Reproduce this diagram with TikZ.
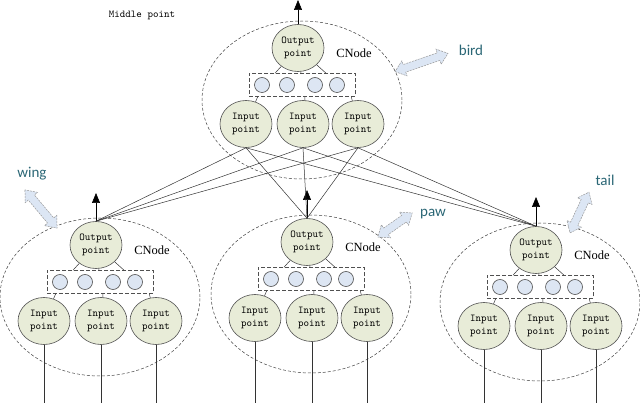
\documentclass[tikz,border=0pt]{standalone}
\usepackage{fontspec}
\setmainfont{Liberation Serif}
\newfontfamily\labf{Carlito}
\usetikzlibrary{shapes.geometric,arrows.meta,calc}
\definecolor{nodefill}{HTML}{E8ECD8}
\definecolor{dotfill}{HTML}{DDE6F3}
\definecolor{edgec}{HTML}{505050}
\definecolor{labc}{HTML}{2A6675}
\definecolor{arrfill}{HTML}{DCE6F4}
\tikzset{
 pnode/.style={ellipse, draw=edgec, fill=nodefill, minimum width=52pt, minimum height=47pt, inner sep=0pt, align=center, font=\ttfamily\fontsize{10.5}{13}\selectfont, line width=0.6pt},
 dotnode/.style={circle, draw=edgec, fill=dotfill, minimum size=15pt, inner sep=0pt, line width=0.6pt},
 boxnode/.style={draw=edgec, dash pattern=on 4pt off 2pt, minimum width=106pt, minimum height=23pt, inner sep=0pt, line width=0.6pt},
 clus/.style={ellipse, draw=black!75, dash pattern=on 3pt off 2pt, line width=0.5pt, minimum width=200pt, minimum height=158pt, inner sep=0pt},
 wire/.style={draw=black!80, line width=0.5pt},
 outarr/.style={draw=black, line width=0.6pt, -{Triangle[length=10pt,width=8pt]}},
 cnlabel/.style={font=\fontsize{12.5}{14}\selectfont},
 partlabel/.style={font=\labf\fontsize{15}{18}\selectfont, text=labc},
 blockarr/.style={draw=gray!80, dash pattern=on 2pt off 1pt, fill=arrfill, line width=0.5pt},
}
\newcommand\mkclus[3]{%
 \node[clus] (#1-e) at (#2,#3+15) {};
 \node[boxnode] (#1-box) at (#2,#3) {};
 \node[dotnode] (#1-d1) at (#2-40,#3) {};
 \node[dotnode] (#1-d2) at (#2-15,#3) {};
 \node[dotnode] (#1-d3) at (#2+13,#3) {};
 \node[dotnode] (#1-d4) at (#2+35,#3) {};
 \node[pnode] (#1-out) at (#2-4,#3-37) {Output\\point};
 \node[pnode] (#1-i1) at (#2-56,#3+39) {Input\\point};
 \node[pnode] (#1-i2) at (#2+1,#3+39) {Input\\point};
 \node[pnode] (#1-i3) at (#2+56,#3+39) {Input\\point};
 \node[cnlabel] (#1-cn) at (#2+52,#3-32) {CNode};
 \draw[wire] (#1-out) -- ($(#1-box.north)+(-27,0)$);
 \draw[wire] (#1-out) -- ($(#1-box.north)+(-1,0)$);
 \draw[wire] (#1-out) -- ($(#1-box.north)+(24,0)$);
 \draw[wire] ($(#1-box.south west)+(9,0)$) -- (#1-i1);
 \draw[wire] ($(#1-box.south)+(3,0)$) -- (#1-i2);
 \draw[wire] ($(#1-box.south east)+(-4,0)$) -- (#1-i3);
}
\newcommand\dblarrow[4]{% cx, cy, angle, length
 \begin{scope}[shift={(#1,#2)}, rotate=#3]
  \draw[blockarr] (-#4/2,0) -- (-#4/2+10,8) -- (-#4/2+10,4) -- (#4/2-10,4) -- (#4/2-10,8) -- (#4/2,0)
    -- (#4/2-10,-8) -- (#4/2-10,-4) -- (-#4/2+10,-4) -- (-#4/2+10,-8) -- cycle;
 \end{scope}
}
\begin{document}
\begin{tikzpicture}[x=1pt,y=-1pt]
\useasboundingbox (0,0) rectangle (640,403);
\coordinate (bot) at (0,403);
\mkclus{T}{302}{85}
\mkclus{L}{100}{282}
\mkclus{M}{311}{279}
\mkclus{R}{540}{287}
% output arrows
\coordinate (T-tip) at (298,0);
\coordinate (L-tip) at (96,193);
\coordinate (M-tip) at (307,190);
\coordinate (R-tip) at (536,197);
\draw[outarr] (T-out.north) -- (T-tip);
\draw[outarr] (L-out.north) -- (L-tip);
\draw[outarr] (M-out.north) -- (M-tip);
\draw[outarr] (R-out.north) -- (R-tip);
% input wires
\foreach \c in {L,M,R}{
 \foreach \i in {1,2,3}{
  \draw[wire] (\c-i\i.south) -- (\c-i\i.south |- bot);
 }
}
% cross links
\foreach \i in {1,2,3}{
 \foreach \c in {L,M,R}{
  \draw[wire] (T-i\i.south) -- (\c-out.north);
 }
}
% labels
\node[font=\ttfamily\fontsize{10.5}{12}\selectfont] (mid) at (142,15) {Middle point};
\node[partlabel] (bird) at (471,50) {bird};
\node[partlabel] (wing) at (32,174) {wing};
\node[partlabel] (paw) at (433,214) {paw};
\node[partlabel] (tail) at (605,180) {tail};
\dblarrow{421.5}{62.5}{19}{56}
\dblarrow{41}{209}{-50}{50}
\dblarrow{395}{225}{35}{42}
\dblarrow{579.5}{212.5}{65}{45}
\end{tikzpicture}
\end{document}
